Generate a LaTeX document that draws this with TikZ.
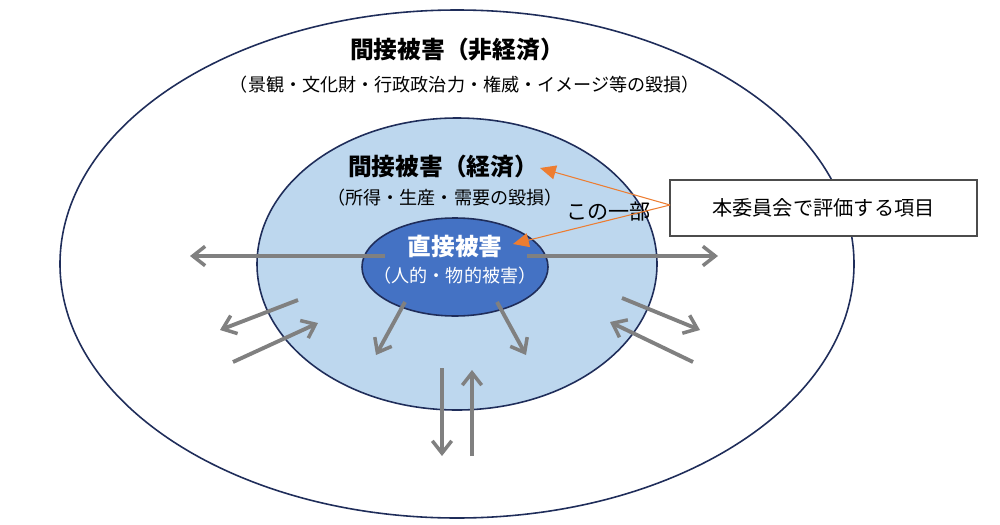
\documentclass[tikz,border=0pt]{standalone}
\usepackage{fontspec}
\setmainfont{Noto Sans CJK JP}
\usetikzlibrary{arrows.meta}
\definecolor{dblue}{HTML}{4472C4}
\definecolor{lblue}{HTML}{BDD7EE}
\definecolor{navy}{HTML}{1F2D5A}
\definecolor{garr}{HTML}{808080}
\definecolor{orng}{HTML}{ED7D31}
\begin{document}
\begin{tikzpicture}[x=0.02cm,y=-0.02cm,
  garrow/.style={draw=garr,line width=2.2pt,-{Straight Barb[length=7pt,width=11pt,line width=2pt]}},
  oarrow/.style={draw=orng,line width=0.6pt,-{Triangle[length=9pt,width=8pt]}},
  head/.style={font=\fontsize{13.5}{15}\selectfont\bfseries},
  sub/.style={font=\fontsize{10.3}{12}\selectfont}]
\useasboundingbox (0,0) rectangle (1000,524);
\fill[white] (0,0) rectangle (1000,524);
\draw[navy,line width=0.9pt] (457,264) ellipse [x radius=397,y radius=254];
\draw[navy,line width=0.9pt,fill=lblue] (457,264) ellipse [x radius=200,y radius=146];
\draw[navy,line width=0.9pt,fill=dblue] (455,267) ellipse [x radius=93,y radius=49];
\node[head] (t1) at (457,50) {間接被害（非経済）};
\node[sub] (s1) at (465,85) {（景観・文化財・行政政治力・権威・イメージ等の毀損）};
\node[head] (t2) at (443,167) {間接被害（経済）};
\node[sub] (s2) at (445,198) {（所得・生産・需要の毀損）};
\node[head,text=white] (t3) at (455,246) {直接被害};
\node[sub,text=white] (s3) at (455,276) {（人的・物的被害）};
\node[font=\fontsize{12}{14}\selectfont,anchor=west,inner sep=0pt] (part) at (566,212) {この一部};
\node[draw=black!70,fill=white,line width=0.6pt,minimum width=307*0.02cm,minimum height=56*0.02cm,
  font=\fontsize{11.5}{13}\selectfont] (box) at (823.5,208) {本委員会で評価する項目};
\coordinate (o) at (670,205);
\coordinate (oa) at (540,168);
\coordinate (ob) at (513,244);
\draw[oarrow] (o) -- (oa);
\draw[oarrow] (o) -- (ob);
\coordinate (a1) at (385,256); \coordinate (b1) at (190,256);
\coordinate (a2) at (527,256); \coordinate (b2) at (718,256);
\draw[garrow] (a1) -- (b1);
\draw[garrow] (a2) -- (b2);
\draw[garrow] (298,300) -- (220,330);
\draw[garrow] (233,362) -- (318,323);
\draw[garrow] (405,302) -- (376,355);
\draw[garrow] (497,302) -- (526,355);
\draw[garrow] (622,298) -- (700,330);
\draw[garrow] (693,362) -- (610,322);
\draw[garrow] (442,368) -- (442,456);
\draw[garrow] (472,456) -- (472,370);
\end{tikzpicture}
\end{document}
